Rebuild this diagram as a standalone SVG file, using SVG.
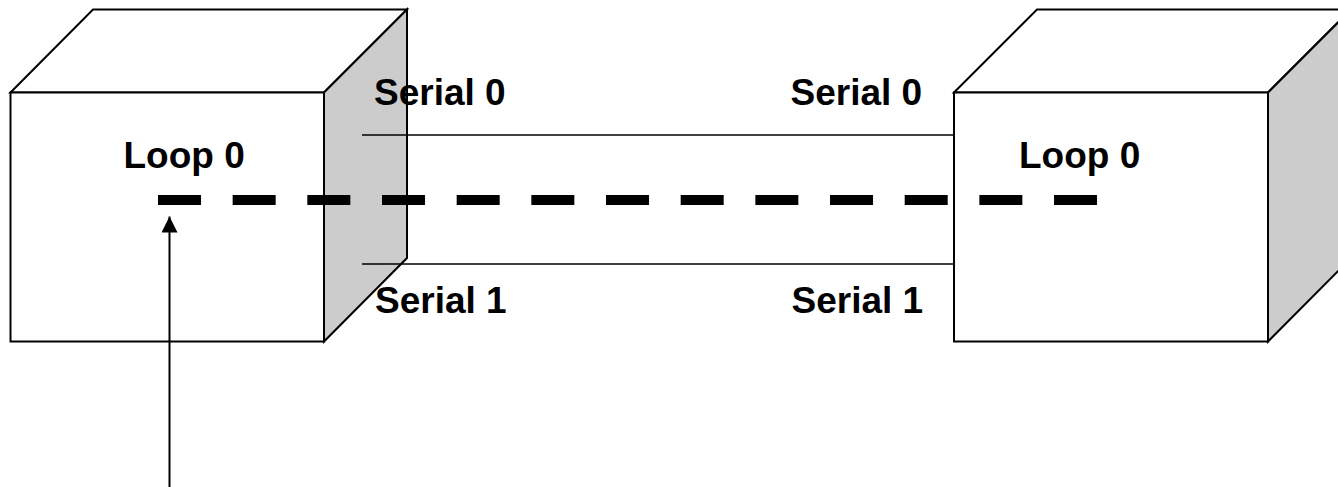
<svg xmlns="http://www.w3.org/2000/svg" width="1338" height="487" viewBox="0 0 1338 487">
  <defs>
    <style>
      .face { fill: #ffffff; stroke: #000000; stroke-width: 2; stroke-linejoin: miter; }
      .side { fill: #cccccc; stroke: #000000; stroke-width: 2; stroke-linejoin: miter; }
      .link { stroke: #000000; stroke-width: 1.6; fill: none; }
      .loop { stroke: #000000; stroke-width: 10; stroke-dasharray: 43 31.67; fill: none; }
      .pointer { stroke: #000000; stroke-width: 2; fill: none; }
      .label { font-family: "Liberation Sans", Arial, sans-serif; font-weight: bold; font-size: 37px; fill: #000000; }
    </style>
    <marker id="arrowhead" viewBox="0 0 16 16" refX="16" refY="8" markerWidth="16" markerHeight="16" markerUnits="userSpaceOnUse" orient="auto">
      <path d="M0,0 L16,8 L0,16 Z" fill="#000000"/>
    </marker>
  </defs>

  <rect width="1338" height="487" fill="#ffffff"/>

  <!-- Router A -->
  <g id="router-a">
    <polygon class="face" points="10.5,92.5 93,9.5 407,9.5 324,92.5"/>
    <polygon class="side" points="324,92.5 407,9.5 407,258 324,341.5"/>
    <rect class="face" x="10.5" y="92.5" width="313.5" height="249"/>
    <text class="label" x="123.5" y="168">Loop 0</text>
  </g>

  <!-- Router B -->
  <g id="router-b">
    <polygon class="face" points="954,92.5 1037,9.5 1351,9.5 1268,92.5"/>
    <polygon class="side" points="1268,92.5 1351,9.5 1351,258 1268,341.5"/>
    <rect class="face" x="954" y="92.5" width="314" height="249"/>
    <text class="label" x="1019" y="168">Loop 0</text>
  </g>

  <!-- Serial links, loopback path and pointer -->
  <g id="connectors">
    <line class="link" x1="362" y1="135" x2="954" y2="135"/>
    <line class="link" x1="362" y1="264" x2="954" y2="264"/>
    <line class="loop" x1="158" y1="200" x2="1097" y2="200"/>
    <line class="pointer" x1="169.5" y1="487" x2="169.5" y2="216.5" marker-end="url(#arrowhead)"/>
  </g>

  <!-- Interface labels -->
  <g id="interface-labels">
    <text class="label" x="374" y="105">Serial 0</text>
    <text class="label" x="790.5" y="105">Serial 0</text>
    <text class="label" x="375" y="312.5">Serial 1</text>
    <text class="label" x="791.5" y="312.5">Serial 1</text>
  </g>
</svg>
